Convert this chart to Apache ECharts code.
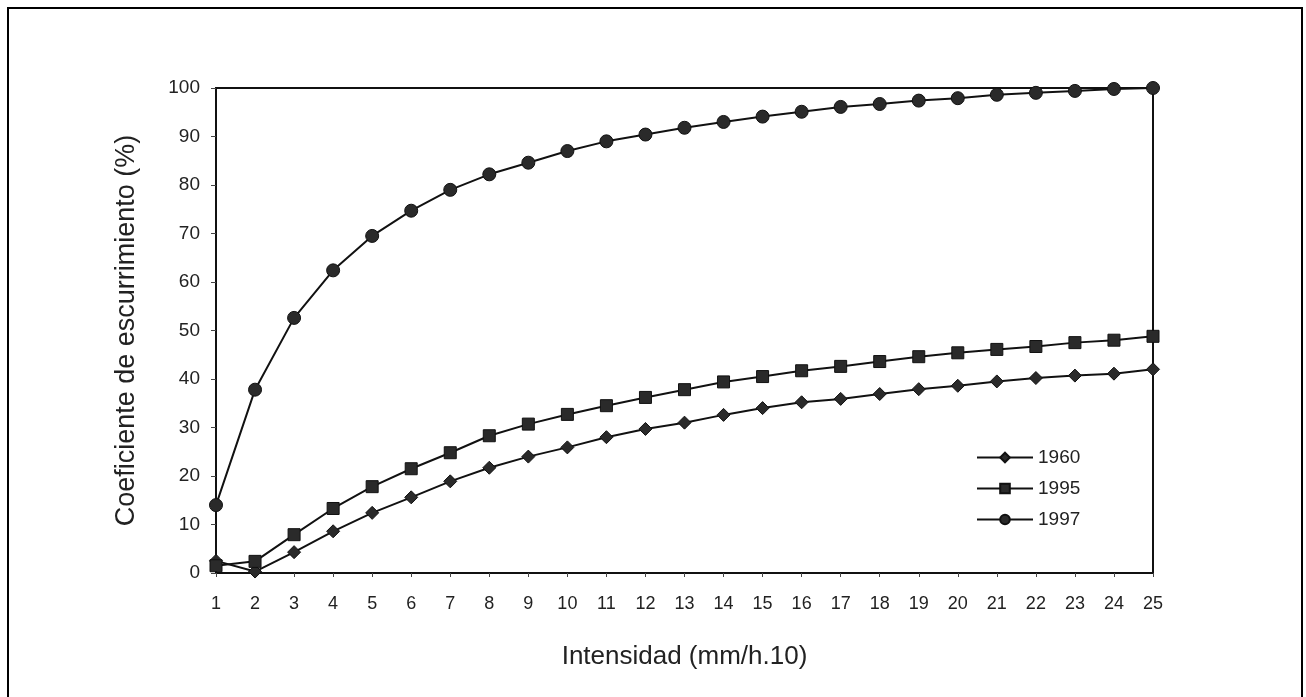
<!DOCTYPE html>
<html>
<head>
<meta charset="utf-8">
<script src="https://cdn.jsdelivr.net/npm/echarts@6/dist/echarts.min.js"></script>
<style>html,body{margin:0;padding:0;background:#fff}#c{width:1306px;height:697px}</style>
</head>
<body>
<div id="c"></div>
<script>
const categories = ['1','2','3','4','5','6','7','8','9','10','11','12','13','14','15','16','17','18','19','20','21','22','23','24','25'];
const s1960 = [2.5,0.3,4.3,8.6,12.4,15.6,18.9,21.7,24.0,25.9,28.0,29.7,31.0,32.6,34.0,35.2,35.9,36.9,37.9,38.6,39.5,40.2,40.7,41.1,42.0];
const s1995 = [1.5,2.4,7.9,13.3,17.8,21.5,24.8,28.3,30.7,32.7,34.5,36.2,37.8,39.4,40.5,41.7,42.6,43.6,44.6,45.4,46.1,46.7,47.5,48.0,48.8];
const s1997 = [14.0,37.8,52.6,62.4,69.5,74.7,79.0,82.2,84.6,87.0,89.0,90.4,91.8,93.0,94.1,95.1,96.1,96.7,97.4,97.9,98.6,99.0,99.4,99.8,100];
const yTicks = [0,10,20,30,40,50,60,70,80,90,100];

const font = 'Liberation Sans, Arial, sans-serif';
const chart = echarts.init(document.getElementById('c'), null, {renderer:'canvas'});
function ser(name, data, symbol, size){
  return {name, type:'line', data, symbol, symbolSize:size, showSymbol:true,
    lineStyle:{color:'#111', width:2}, itemStyle:{color:'#2a2a2a', borderColor:'#111', borderWidth:1},
    emphasis:{disabled:true}, animation:false};
}
chart.setOption({
  animation:false,
  backgroundColor:'#fff',
  graphic:[{type:'rect', shape:{x:8, y:8, width:1294, height:700}, style:{fill:'none', stroke:'#000', lineWidth:2}}],
  grid:{left:216, right:153, top:88, bottom:124, show:true, borderColor:'#111', borderWidth:2, backgroundColor:'transparent'},
  legend:{orient:'vertical', left:971, top:443, itemWidth:56, itemHeight:12, itemGap:12,
    textStyle:{fontFamily:font, fontSize:19, color:'#222'},
    data:['1960','1995','1997']},
  xAxis:{type:'category', data:categories, boundaryGap:false,
    name:'Intensidad (mm/h.10)', nameLocation:'middle', nameGap:71,
    nameTextStyle:{fontFamily:font, fontSize:26, color:'#222'},
    axisLine:{lineStyle:{color:'#111', width:2}},
    axisTick:{show:true, alignWithLabel:true, length:4, lineStyle:{color:'#444'}},
    axisLabel:{fontFamily:font, fontSize:18, color:'#222', margin:22, interval:0},
    splitLine:{show:false}},
  yAxis:{type:'value', min:0, max:100, interval:10,
    name:'Coeficiente de escurrimiento (%)', nameLocation:'middle', nameGap:76,
    nameTextStyle:{fontFamily:font, fontSize:27, color:'#222'},
    axisLine:{show:true, lineStyle:{color:'#111', width:2}},
    axisTick:{show:true, length:5, lineStyle:{color:'#444'}},
    axisLabel:{fontFamily:font, fontSize:19, color:'#222', margin:16,
      formatter:function(v){return yTicks.indexOf(v)>=0? String(v):'';}},
    splitLine:{show:false}},
  series:[
    ser('1960', s1960, 'diamond', 13),
    ser('1995', s1995, 'rect', 12),
    ser('1997', s1997, 'circle', 13)
  ]
});
</script>
</body>
</html>
